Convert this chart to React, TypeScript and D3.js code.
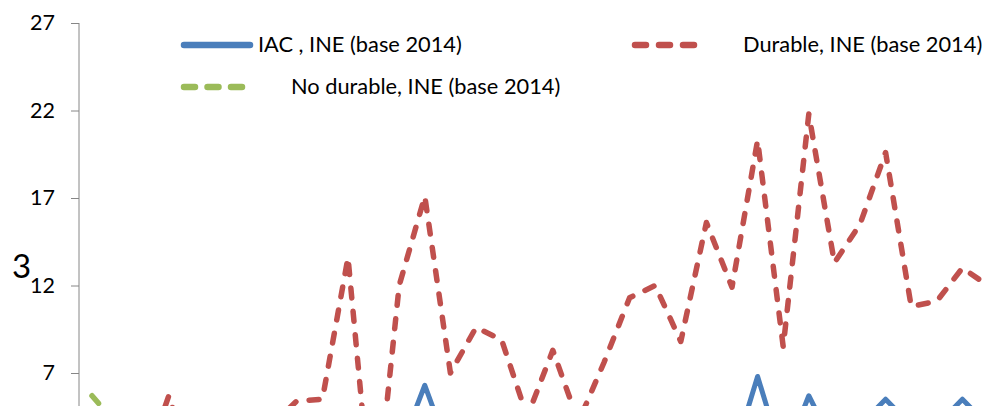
import { useEffect, useRef } from 'react';
import * as d3 from 'd3';

// growth rates (values below ~5 are cropped out of view, estimated)
const iac = [3.0, 2.5, 2.8, 3.5, 2.0, 1.5, 2.5, 3.0, 3.5, 3.2, 4.0, 1.0, 2.5, 6.3, 2.3, 3.1, 2.7, 1.8, 3.0, 2.4, 3.3, 2.9, 3.6, 2.6, 3.2, 2.0, 6.8, 2.0, 5.7, 2.8, 4.0, 5.5, 4.0, 4.0, 5.5, 4.0];
const durable = [2.5, 0.5, 1.5, 5.7, 1.0, -1.5, 0.5, 4.0, 5.4, 5.5, 13.6, -2.0, 12.0, 17.1, 7.0, 9.6, 8.9, 4.5, 8.3, 4.2, 7.6, 11.3, 12.0, 8.8, 15.6, 11.9, 20.3, 8.5, 21.8, 13.3, 15.5, 19.6, 10.8, 11.1, 13.0, 12.0];
const noDurable = [5.7, 4.0, 3.2, 2.6, 3.0, 2.4, 3.1, 2.9, 3.3, 2.7, 3.5, 2.2, 2.8, 3.4, 1.9, 2.6, 3.0, 2.1, 2.9, 2.5, 3.2, 2.8, 3.6, 2.4, 3.0, 2.2, 3.4, 1.5, 2.9, 2.6, 3.1, 2.8, 2.4, 2.7, 3.3, 2.9];
const yTicks = [7, 12, 17, 22, 27];
const seriesNames = ['IAC , INE (base 2014)', 'Durable, INE (base 2014)', 'No durable, INE (base 2014)'];

const width = 987;
const height = 406;
const font = 'Lato, "Open Sans", sans-serif';

export default function App() {
  const axisRef = useRef<SVGGElement>(null);

  const x = d3.scaleLinear().domain([0, durable.length - 1]).range([92, 92 + 25.6 * (durable.length - 1)]);
  const y = d3.scaleLinear().domain([7, 27]).range([373, 23]);

  const line = d3.line<number>()
    .x((v, i) => x(i))
    .y((v) => y(v));

  useEffect(() => {
    const g = d3.select(axisRef.current);
    g.call(d3.axisLeft(y).tickValues(yTicks).tickSize(8).tickPadding(16).tickSizeOuter(0));
    g.select('.domain').attr('stroke', '#868686').attr('d', `M0,${y(27)}V${height + 10}`);
    g.selectAll('.tick line').attr('stroke', '#868686');
    g.selectAll('.tick text')
      .attr('font-family', font)
      .attr('font-size', 21.5)
      .attr('fill', '#000');
  }, []);

  return (
    <svg width={width} height={height} style={{ position: 'absolute', left: 0, top: 0, background: '#fff' }}>
      <g ref={axisRef} transform="translate(79,0)" />
      <text x={12} y={278} fontFamily={font} fontSize={33} fill="#000">3</text>

      <path d={line(noDurable) ?? ''} fill="none" stroke="#9bbb59" strokeWidth={5.5}
        strokeDasharray="10,13.5" strokeLinecap="round" strokeLinejoin="round" />
      <path d={line(durable) ?? ''} fill="none" stroke="#c0504d" strokeWidth={5.5}
        strokeDasharray="10,13.5" strokeLinecap="round" strokeLinejoin="round" />
      <path d={line(iac) ?? ''} fill="none" stroke="#4a7ebb" strokeWidth={5}
        strokeLinecap="round" strokeLinejoin="round" />

      {/* legend */}
      <line x1={184} x2={250} y1={45} y2={45} stroke="#4a7ebb" strokeWidth={6.5} strokeLinecap="round" />
      <text x={258} y={52} fontFamily={font} fontSize={21.8} fill="#000">{seriesNames[0]}</text>
      <line x1={635} x2={694} y1={45} y2={45} stroke="#c0504d" strokeWidth={6.5}
        strokeDasharray="11,13" strokeLinecap="round" />
      <text x={743} y={52} fontFamily={font} fontSize={21.8} fill="#000">{seriesNames[1]}</text>
      <line x1={184} x2={242} y1={87} y2={87} stroke="#9bbb59" strokeWidth={6.5}
        strokeDasharray="11,12.5" strokeLinecap="round" />
      <text x={291} y={94} fontFamily={font} fontSize={21.8} fill="#000">{seriesNames[2]}</text>
    </svg>
  );
}
